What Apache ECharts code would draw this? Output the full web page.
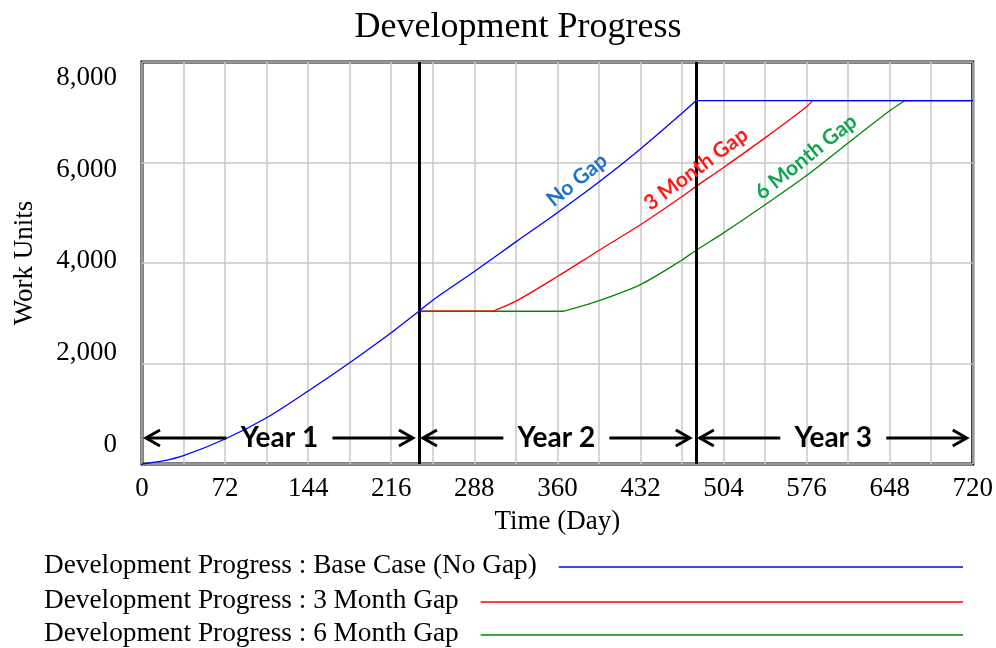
<!DOCTYPE html>
<html>
<head>
<meta charset="utf-8">
<title>Development Progress</title>
<script src="https://cdn.jsdelivr.net/npm/echarts@6/dist/echarts.min.js"></script>
<style>
  html, body { margin: 0; padding: 0; background: #fff; }
  #chart { width: 996px; height: 648px; }
</style>
</head>
<body>
<div id="chart"></div>
<script>
// -- Data --
const TITLE = 'Development Progress';
const SERIES_NAMES = [
  'Development Progress : Base Case (No Gap)',
  'Development Progress : 3 Month Gap',
  'Development Progress : 6 Month Gap'
];
const CURVE_LABELS = ['No Gap', '3 Month Gap', '6 Month Gap'];

const baseDays   = [0, 18, 36, 72, 108, 144, 180, 216, 240, 252, 288, 324, 360, 396, 432, 468, 480, 720];
const baseValues = [0, 60, 165, 497, 921, 1453, 2016, 2613, 3040, 3260, 3830, 4420, 5000, 5610, 6270, 6980, 7230, 7230];

const gap3Days   = [240, 304, 324, 360, 396, 432, 468, 480, 504, 540, 576, 581, 720];
const gap3Values = [3040, 3040, 3240, 3730, 4250, 4760, 5320, 5520, 5900, 6490, 7110, 7230, 7230];

const gap6Days   = [240, 366, 396, 432, 468, 480, 504, 540, 576, 612, 648, 661, 720];
const gap6Values = [3040, 3040, 3250, 3570, 4060, 4250, 4600, 5160, 5740, 6390, 7030, 7230, 7230];

const X_TICKS = [0, 72, 144, 216, 288, 360, 432, 504, 576, 648, 720];
const Y_TICKS = [0, 2000, 4000, 6000, 8000];
const YEAR_BOUNDS = [240, 480];
const YEAR_SPANS = [[0, 240, 'Year 1'], [240, 480, 'Year 2'], [480, 720, 'Year 3']];

// -- Styling --
const SERIF = '"Liberation Serif", "Times New Roman", serif';
const SANS = 'Lato, "Open Sans", sans-serif';
const LINE_COLORS = ['#0000ff', '#ff0000', '#008a00'];
const LABEL_COLORS = ['#1e73c8', '#ff1a1a', '#14a552'];
const GRID_GREY = '#c8c8c8';
const SERIES_Z = [5, 4, 3]; // base case drawn on top, as in the original

const zip = (xs, ys) => xs.map((x, i) => [x, ys[i]]);
const seriesData = [zip(baseDays, baseValues), zip(gap3Days, gap3Values), zip(gap6Days, gap6Values)];

// Split a run into flat stretches (drawn straight) and ramps (drawn smooth),
// so smoothing never bulges past a plateau.
function splitRuns(points) {
  const runs = [];
  let cur = [points[0]];
  let flat = null;
  for (let i = 1; i < points.length; i++) {
    const isFlat = points[i][1] === points[i - 1][1];
    if (flat !== null && isFlat !== flat) {
      runs.push({ flat, pts: cur });
      cur = [points[i - 1]];
    }
    flat = isFlat;
    cur.push(points[i]);
  }
  runs.push({ flat, pts: cur });
  return runs;
}

const series = [];
seriesData.forEach((pts, i) => {
  splitRuns(pts).forEach(run => {
    series.push({
      name: SERIES_NAMES[i],
      type: 'line',
      data: run.pts,
      showSymbol: false,
      symbol: 'none',
      smooth: run.flat ? false : 0.3,
      lineStyle: { color: LINE_COLORS[i], width: 1.3 },
      z: SERIES_Z[i]
    });
  });
});
// thick black year dividers
series.push({
  type: 'line',
  data: [],
  markLine: {
    silent: true,
    symbol: 'none',
    label: { show: false },
    lineStyle: { color: '#000', width: 3, type: 'solid' },
    data: YEAR_BOUNDS.map(d => ({ xAxis: d }))
  },
  z: 6
});

const chart = echarts.init(document.getElementById('chart'), null, { renderer: 'canvas' });

const option = {
  animation: false,
  backgroundColor: '#fff',
  title: {
    text: TITLE,
    left: 513,
    top: 5,
    textAlign: 'center',
    textStyle: { fontFamily: SERIF, fontSize: 36, fontWeight: 'normal', color: '#000' }
  },
  grid: {
    left: 142, right: 23, top: 62, bottom: 184,
    show: true, borderColor: '#000', borderWidth: 3
  },
  xAxis: {
    type: 'value',
    min: 0, max: 720, interval: 36,
    name: 'Time (Day)',
    nameLocation: 'middle',
    nameGap: 44,
    nameTextStyle: { fontFamily: SERIF, fontSize: 27, color: '#000' },
    axisLine: { show: false },
    axisTick: { show: false },
    axisLabel: {
      interval: 0,
      margin: 11,
      fontFamily: SERIF, fontSize: 27, color: '#000',
      showMinLabel: true, showMaxLabel: true,
      formatter: v => X_TICKS.includes(v) ? String(v) : ''
    },
    splitLine: { show: true, lineStyle: { color: GRID_GREY, width: 1.5 } }
  },
  yAxis: [
    {
      type: 'value',
      min: 0, max: 8000, interval: 2000,
      axisLine: { show: false },
      axisTick: { show: false },
      axisLabel: { show: false },
      splitLine: { show: true, lineStyle: { color: GRID_GREY, width: 1.5 } }
    },
    {
      // label-only axis: Vensim spreads its tick labels inward from the frame
      type: 'value',
      position: 'left',
      min: -414, max: 8340,
      axisLine: { show: false },
      axisTick: { show: false },
      splitLine: { show: false },
      axisLabel: {
        customValues: Y_TICKS,
        margin: 25,
        fontFamily: SERIF, fontSize: 27, color: '#000',
        formatter: v => v.toLocaleString('en-US')
      },
      name: 'Work Units',
      nameLocation: 'middle',
      nameGap: 104,
      nameRotate: 90,
      nameTextStyle: { fontFamily: SERIF, fontSize: 27, color: '#000' }
    }
  ],
  series
};

chart.setOption(option);

// -- Annotations: year arrows, curve labels, legend --
function arrowHead(x, y, dir) {
  return {
    type: 'polyline',
    shape: { points: [[x - dir * 14, y - 8], [x, y], [x - dir * 14, y + 8]] },
    style: { stroke: '#000', lineWidth: 3, fill: null },
    z: 10
  };
}

const graphics = [];
const yArrow = chart.convertToPixel({ yAxisIndex: 0 }, 0) - 26;
YEAR_SPANS.forEach(([a, b, label]) => {
  const xa = chart.convertToPixel({ xAxisIndex: 0 }, a) + 4;
  const xb = chart.convertToPixel({ xAxisIndex: 0 }, b) - 6;
  const mid = (xa + xb) / 2;
  graphics.push(
    { type: 'line', shape: { x1: xa, y1: yArrow, x2: mid - 53, y2: yArrow }, style: { stroke: '#000', lineWidth: 3 }, z: 10 },
    { type: 'line', shape: { x1: mid + 53, y1: yArrow, x2: xb, y2: yArrow }, style: { stroke: '#000', lineWidth: 3 }, z: 10 },
    arrowHead(xa, yArrow, -1),
    arrowHead(xb, yArrow, 1),
    {
      type: 'text', z: 10,
      style: { text: label, x: mid, y: yArrow, textAlign: 'center', textVerticalAlign: 'middle', font: 'bold 28px ' + SANS, fill: '#000' }
    }
  );
});

// rotated in-plot labels
const curveLabelPos = [[577, 180, 39], [696, 169, 36.6], [806, 157, 38.4]];
CURVE_LABELS.forEach((t, i) => {
  const [x, y, deg] = curveLabelPos[i];
  graphics.push({
    type: 'text', x, y, rotation: deg * Math.PI / 180, z: 10,
    style: { text: t, x: 0, y: 0, textAlign: 'center', textVerticalAlign: 'middle', font: 'bold 21px ' + SANS, fill: LABEL_COLORS[i] }
  });
});

// legend (text first, then a line reaching to the right)
const LEGEND_FONT = '27.3px ' + SERIF;
const measure = document.createElement('canvas').getContext('2d');
measure.font = LEGEND_FONT;
const legendY = [566, 601, 634];
SERIES_NAMES.forEach((name, i) => {
  const w = measure.measureText(name).width;
  graphics.push(
    { type: 'text', style: { text: name, x: 44, y: legendY[i], textAlign: 'left', textVerticalAlign: 'middle', font: LEGEND_FONT, fill: '#000' } },
    { type: 'line', shape: { x1: 44 + w + 22, y1: legendY[i] + 1, x2: 963, y2: legendY[i] + 1 }, style: { stroke: LINE_COLORS[i], lineWidth: 1.3 } }
  );
});

chart.setOption({ graphic: graphics });
</script>
</body>
</html>
